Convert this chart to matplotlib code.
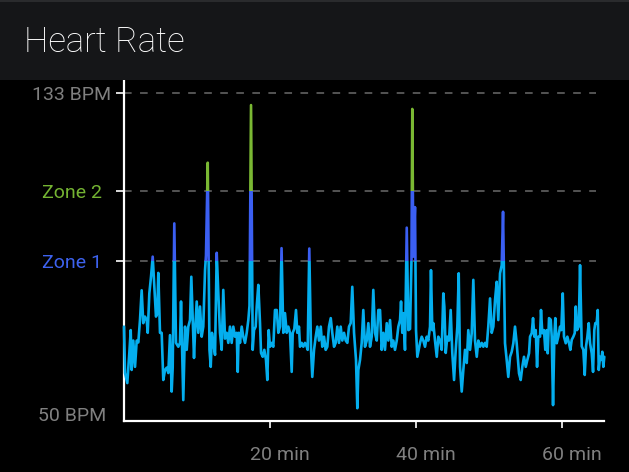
import numpy as np
import matplotlib
matplotlib.use("Agg")
import matplotlib.pyplot as plt
from matplotlib.patches import Rectangle
from matplotlib.transforms import ScaledTranslation

# ── Palette ──────────────────────────────────────────────────────────────────
BG      = "#000000"
HEADER  = "#151618"
HEADTOP = "#2a2b2d"
TEXT    = "#ffffff"
MUTED   = "#808080"
GRID    = "#6a6a6a"
CYAN    = "#04aeee"
BLUE    = "#3b5ff2"
GREEN   = "#7ab833"
Z1_TXT  = "#3d62ee"
Z2_TXT  = "#74b332"

# ── Data ─────────────────────────────────────────────────────────────────────
ZONE1 = 89.6
ZONE2 = 107.6
MAX_BPM = 133
MIN_BPM = 50

minutes = [
    0.00, 0.14, 0.45, 0.73, 0.92, 1.05, 1.27, 1.51, 1.74, 1.96, 2.19, 2.42, 2.64, 2.88,
    3.11, 3.25, 3.47, 3.70, 3.93, 4.15, 4.38, 4.56, 4.70, 4.93, 5.16, 5.38, 5.62, 5.85,
    6.07, 6.30, 6.53, 6.67, 6.89, 7.12, 7.44, 7.67, 7.81, 7.99, 8.12, 8.36, 8.59, 8.81,
    9.04, 9.22, 9.41, 9.59, 9.73, 9.96, 10.18, 10.41, 10.64, 10.86, 11.10, 11.23, 11.47,
    11.60, 11.71, 11.88, 12.05, 12.23, 12.47, 12.70, 12.92, 13.15, 13.38, 13.60, 13.84,
    14.07, 14.29, 14.52, 14.75, 14.97, 15.21, 15.44, 15.58, 15.71, 15.89, 16.12, 16.34,
    16.58, 16.81, 17.03, 17.19, 17.40, 17.63, 17.81, 18.04, 18.18, 18.40, 18.63, 18.77,
    19.00, 19.22, 19.45, 19.63, 19.82, 20.00, 20.23, 20.45, 20.68, 20.92, 21.14, 21.37,
    21.58, 21.82, 22.05, 22.29, 22.51, 22.74, 22.97, 23.11, 23.33, 23.56, 23.74, 23.97,
    24.11, 24.34, 24.56, 24.79, 25.03, 25.16, 25.38, 25.62, 25.79, 26.03, 26.26, 26.48,
    26.71, 26.95, 27.16, 27.40, 27.63, 27.85, 28.08, 28.32, 28.53, 28.77, 29.00, 29.22,
    29.45, 29.68, 29.90, 30.14, 30.37, 30.59, 30.82, 31.05, 31.27, 31.51, 31.68, 31.78,
    31.96, 32.10, 32.33, 32.56, 32.78, 33.01, 33.25, 33.47, 33.70, 33.93, 34.15, 34.38,
    34.62, 34.84, 35.07, 35.30, 35.52, 35.75, 35.99, 36.21, 36.44, 36.67, 36.89, 37.12,
    37.36, 37.58, 37.81, 37.95, 38.12, 38.26, 38.49, 38.73, 38.95, 39.18, 39.38, 39.49,
    39.63, 39.86, 40.00, 40.18, 40.55, 40.78, 41.00, 41.23, 41.47, 41.68, 41.92, 42.05,
    42.23, 42.37, 42.60, 42.84, 43.05, 43.29, 43.52, 43.74, 43.88, 44.07, 44.29, 44.52,
    44.75, 44.97, 45.21, 45.44, 45.66, 45.85, 46.03, 46.26, 46.48, 46.71, 46.95, 47.16,
    47.40, 47.63, 47.85, 48.08, 48.32, 48.53, 48.77, 49.00, 49.22, 49.45, 49.68, 49.90,
    50.14, 50.37, 50.59, 50.82, 51.05, 51.27, 51.51, 51.74, 51.92, 52.19, 52.42, 52.64,
    52.88, 53.11, 53.33, 53.56, 53.79, 53.93, 54.11, 54.34, 54.56, 54.79, 55.03, 55.25,
    55.48, 55.62, 55.85, 56.03, 56.21, 56.40, 56.58, 56.75, 56.99, 57.12, 57.30, 57.53,
    57.71, 57.90, 58.04, 58.22, 58.45, 58.59, 58.77, 58.95, 59.08, 59.27, 59.49, 59.73,
    59.90, 60.10, 60.27, 60.51, 60.73, 60.96, 61.14, 61.33, 61.55, 61.74, 61.88, 62.05,
    62.29, 62.47, 62.70, 62.92, 63.11, 63.29, 63.47, 63.66, 63.84, 64.07, 64.25, 64.42,
    64.56, 64.75, 64.89, 65.03, 65.21, 65.38, 65.52, 65.66, 65.79,
]

bpm = [
    72.6, 60.6, 58.0, 65.8, 71.7, 61.4, 69.0, 62.2, 69.0, 68.5, 74.3, 82.0, 73.5, 75.2,
    74.3, 71.0, 81.2, 85.5, 90.7, 82.9, 75.2, 76.0, 86.5, 71.0, 71.0, 58.8, 61.4, 62.0,
    60.6, 70.4, 55.8, 62.0, 99.3, 68.4, 67.4, 68.4, 79.1, 64.8, 53.6, 72.6, 66.6, 72.6,
    74.3, 85.5, 74.3, 64.5, 71.0, 79.1, 71.0, 77.8, 70.0, 72.6, 87.2, 91.0, 115.0,
    90.0, 66.6, 62.2, 71.0, 68.4, 65.3, 91.7, 81.2, 71.0, 66.6, 82.1, 69.5,
    71.0, 68.4, 72.6, 68.4, 72.6, 70.0, 71.0, 60.9, 71.0, 68.4, 72.6, 70.0,
    68.4, 71.0, 74.3, 78.0, 129.9, 66.6, 71.7, 72.6, 77.8, 83.4, 73.5, 65.8,
    64.8, 66.6, 64.0, 58.8, 71.7, 67.4, 68.4, 67.4, 76.9, 76.9, 71.0, 72.6,
    92.9, 71.0, 76.1, 71.0, 72.6, 71.0, 60.9, 71.0, 72.0, 76.9, 71.0, 72.6,
    67.4, 68.4, 67.4, 68.4, 67.4, 66.6, 92.8, 66.6, 59.6, 66.6, 70.0, 72.6,
    69.0, 72.6, 67.4, 70.0, 66.6, 67.4, 72.6, 74.8, 71.0, 67.4, 68.4, 72.6,
    68.4, 72.6, 69.0, 71.0, 69.0, 68.4, 72.6, 73.5, 82.9, 71.0, 66.6, 64.0,
    51.5, 61.4, 64.0, 68.4, 76.9, 67.4, 69.0, 73.5, 67.4, 70.0, 82.1, 71.0,
    69.0, 76.9, 76.9, 66.6, 71.0, 66.6, 73.5, 69.0, 74.3, 67.4, 69.0, 66.6,
    69.0, 72.6, 74.3, 79.1, 71.0, 76.1, 66.6, 98.2, 71.7, 72.0, 90.0, 128.9,
    90.7, 103.5, 71.7, 64.8, 68.4, 70.0, 69.0, 67.4, 70.0, 69.0, 72.6, 87.2,
    71.7, 73.5, 69.0, 64.8, 70.0, 69.0, 66.6, 81.2, 77.8, 65.8, 70.0, 69.0,
    76.9, 65.8, 58.8, 66.6, 72.6, 86.4, 62.2, 55.8, 61.4, 66.6, 63.2, 71.7,
    66.6, 70.9, 84.7, 69.0, 64.8, 69.0, 67.4, 68.4, 67.4, 68.4, 67.4, 72.6,
    79.9, 71.0, 72.6, 79.4, 84.2, 74.3, 86.4, 88.5, 102.3, 68.3, 64.0, 59.6,
    64.8, 66.1, 68.3, 72.6, 68.3, 64.8, 60.5, 58.8, 62.2, 64.8, 62.2, 64.0,
    65.7, 70.0, 70.9, 74.8, 70.0, 71.7, 62.2, 70.0, 70.0, 76.9, 70.9, 71.7,
    66.6, 71.7, 65.7, 74.8, 74.4, 70.0, 52.3, 70.0, 74.8, 68.3, 70.0, 72.6,
    71.7, 81.2, 70.0, 68.3, 70.0, 68.3, 66.6, 69.2, 70.0, 70.9, 77.8, 71.7,
    72.6, 88.5, 67.5, 66.6, 60.1, 67.5, 70.0, 73.5, 68.3, 65.7, 60.9, 71.7,
    73.5, 73.5, 76.9, 61.4, 64.8, 64.0, 66.1, 62.2, 64.8,
]

y_ticks       = [MIN_BPM, ZONE1, ZONE2, MAX_BPM]
y_tick_labels = ["50 BPM", "Zone 1", "Zone 2", "133 BPM"]
y_tick_colors = [MUTED, Z1_TXT, Z2_TXT, MUTED]
x_ticks       = [20, 40, 60]
x_tick_labels = ["20 min", "40 min", "60 min"]

# ── Figure ───────────────────────────────────────────────────────────────────
plt.rcParams["font.family"] = ["Roboto", "DejaVu Sans"]

W, H = 629, 472
fig = plt.figure(figsize=(W / 100, H / 100), dpi=100)
fig.patch.set_facecolor(BG)

# header bar
fig.patches.append(Rectangle((0, 1 - 80 / H), 1, 80 / H, transform=fig.transFigure,
                             facecolor=HEADER, edgecolor="none", zorder=0))
fig.patches.append(Rectangle((0, 1 - 2 / H), 1, 2 / H, transform=fig.transFigure,
                             facecolor=HEADTOP, edgecolor="none", zorder=1))
fig.text(24 / W, 1 - 42 / H, "Heart Rate", color=TEXT, fontsize=25,
         fontweight="light", va="center", ha="left")

ax = fig.add_axes([124 / W, 1 - 420.7 / H, (604 - 124) / W, (420.7 - 81) / H])
ax.set_facecolor(BG)

x_max = 65.75
y_lo, y_hi = 48.27, 136.13
ax.set_xlim(0, x_max)
ax.set_ylim(y_lo, y_hi)

# dashed reference lines
for v in [ZONE1, ZONE2, MAX_BPM]:
    ax.axhline(v, xmin=0, xmax=0.983, color=GRID, lw=1.1,
               linestyle=(0, (5, 5.5)), zorder=1)

# heart-rate trace, coloured by zone via clipping bands
bands = [(y_lo - 5, ZONE1, CYAN), (ZONE1, ZONE2, BLUE), (ZONE2, y_hi + 5, GREEN)]
for lo, hi, col in bands:
    line, = ax.plot(minutes, bpm, color=col, lw=1.9, solid_joinstyle="round",
                    solid_capstyle="round", zorder=3)
    clip = Rectangle((-1, lo), x_max + 2, hi - lo, transform=ax.transData)
    line.set_clip_path(clip)

# spines
for side in ["top", "right"]:
    ax.spines[side].set_visible(False)
for side in ["left", "bottom"]:
    ax.spines[side].set_color(TEXT)
    ax.spines[side].set_linewidth(1.6)

# y ticks: labels centred in the left gutter
ax.set_yticks(y_ticks)
ax.set_yticklabels(y_tick_labels)
ax.tick_params(axis="y", colors=TEXT, length=6, width=1.2, pad=4.5,
               labelsize=14)
yshift = ScaledTranslation(-37.5 / 100, 0, fig.dpi_scale_trans)
for lbl, c in zip(ax.get_yticklabels(), y_tick_colors):
    lbl.set_color(c)
    lbl.set_horizontalalignment("center")
    lbl.set_transform(lbl.get_transform() + yshift)
ax.yaxis.get_major_ticks()[0].tick1line.set_visible(False)

# x ticks
ax.set_xticks(x_ticks)
ax.set_xticklabels(x_tick_labels)
ax.tick_params(axis="x", colors=TEXT, length=5, width=1.2, pad=13,
               labelsize=14, labelcolor=MUTED)
xshift = ScaledTranslation(10 / 100, 0, fig.dpi_scale_trans)
for lbl in ax.get_xticklabels():
    lbl.set_transform(lbl.get_transform() + xshift)

fig.savefig("out.png", dpi=100, facecolor=BG)
